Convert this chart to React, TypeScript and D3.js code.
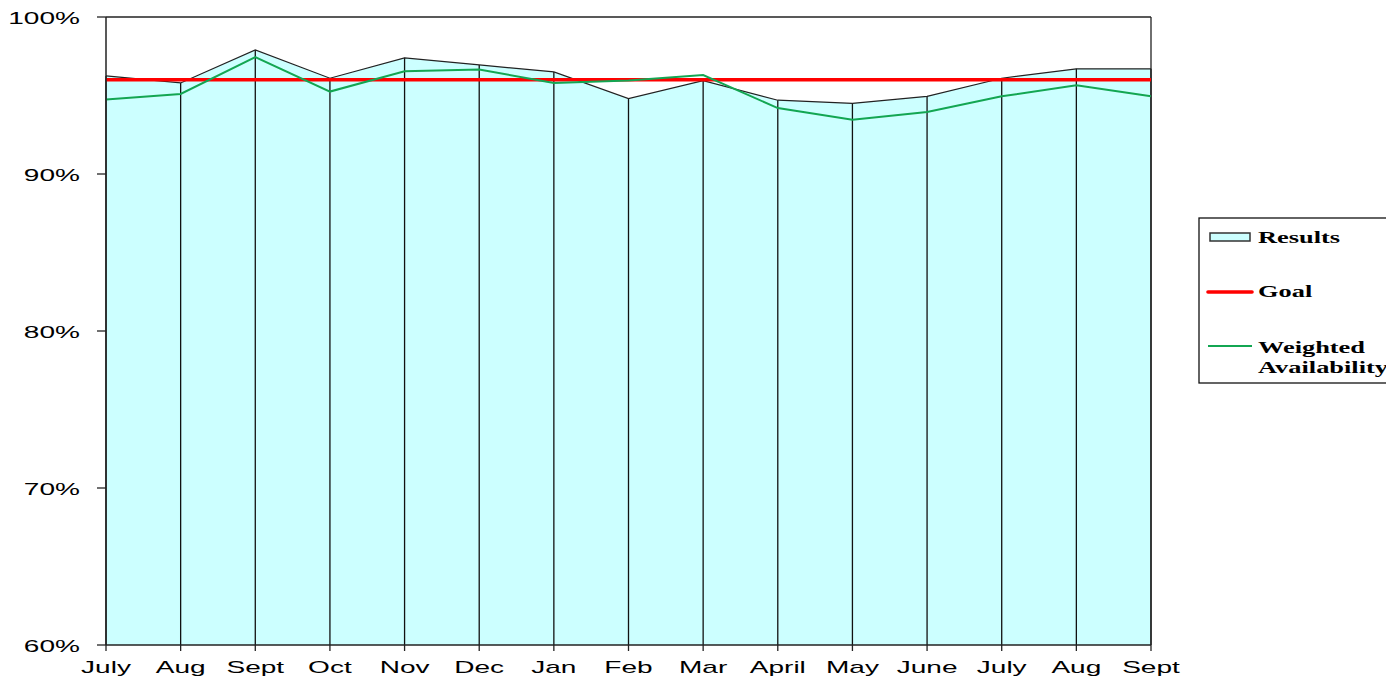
import React from "react";
import * as d3 from "d3";

const months = ["July", "Aug", "Sept", "Oct", "Nov", "Dec", "Jan", "Feb", "Mar", "April", "May", "June", "July", "Aug", "Sept"];
const results = [96.25, 95.8, 97.9, 96.1, 97.4, 96.95, 96.5, 94.8, 95.95, 94.7, 94.5, 94.95, 96.1, 96.7, 96.7];
const weighted = [94.75, 95.1, 97.45, 95.25, 96.55, 96.65, 95.8, 95.95, 96.3, 94.2, 93.45, 93.95, 94.95, 95.65, 94.95];
const goal = 96;
const yTicks = [60, 70, 80, 90, 100];
const legendItems = ["Results", "Goal", "Weighted Availability"];

const W = 1386, H = 679;
const L = 106, R = 1151, T = 17, B = 645;
const SX = 1.65;

export default function App() {
  const idx = months.map((_, i) => i);
  const x = d3.scalePoint<number>().domain(idx).range([L, R]);
  const y = d3.scaleLinear().domain([60, 100]).range([B, T]);

  const area = d3.area<number>().x((_, i) => x(i)!).y0(B).y1((d) => y(d));
  const line = d3.line<number>().x((_, i) => x(i)!).y((d) => y(d));

  const axisFont = "'Liberation Sans', Arial, sans-serif";
  const legFont = "'Liberation Serif', 'Times New Roman', serif";

  return (
    <svg width={W} height={H} style={{ position: "absolute", left: 0, top: 0, display: "block", background: "#fff" }}>
      <path d={area(results)!} fill="#CCFFFF" stroke="none" />
      {results.map((v, i) => (
        <line key={"d" + i} x1={x(i)} x2={x(i)} y1={y(v)} y2={B} stroke="#111" strokeWidth={1.3} />
      ))}
      <path d={line(results)!} fill="none" stroke="#222" strokeWidth={1.2} />
      {/* plot border */}
      <line x1={L} x2={R} y1={T} y2={T} stroke="#222" strokeWidth={1.3} />
      <line x1={R} x2={R} y1={T} y2={B} stroke="#222" strokeWidth={1.3} />
      {/* goal */}
      <line x1={L} x2={R} y1={y(goal)} y2={y(goal)} stroke="#FF0000" strokeWidth={3.6} />
      {/* weighted */}
      <path d={line(weighted)!} fill="none" stroke="#13A652" strokeWidth={2} />
      {/* axes */}
      <line x1={L} x2={L} y1={T} y2={B} stroke="#222" strokeWidth={1.5} />
      <line x1={L} x2={R} y1={B} y2={B} stroke="#222" strokeWidth={1.5} />
      {yTicks.map((t) => (
        <g key={"y" + t}>
          <line x1={L - 9} x2={L} y1={y(t)} y2={y(t)} stroke="#222" strokeWidth={1.3} />
          <text
            transform={`translate(80,${y(t) + 6.5}) scale(${SX},1)`}
            textAnchor="end"
            fontFamily={axisFont}
            fontSize={17}
            fill="#000"
          >
            {t}%
          </text>
        </g>
      ))}
      {idx.map((i) => (
        <g key={"x" + i}>
          <line x1={x(i)} x2={x(i)} y1={B} y2={B + 6} stroke="#222" strokeWidth={1.3} />
          <text
            transform={`translate(${x(i)},${673}) scale(${SX},1)`}
            textAnchor="middle"
            fontFamily={axisFont}
            fontSize={17}
            fill="#000"
          >
            {months[i]}
          </text>
        </g>
      ))}
      {/* legend */}
      <rect x={1199} y={218} width={220} height={165} fill="#fff" stroke="#111" strokeWidth={1.3} />
      <rect x={1210} y={233} width={40} height={8} fill="#CCFFFF" stroke="#333" strokeWidth={1.5} />
      <line x1={1208} x2={1252} y1={292} y2={292} stroke="#FF0000" strokeWidth={3.6} strokeLinecap="round" />
      <line x1={1208} x2={1252} y1={346} y2={346} stroke="#13A652" strokeWidth={2} />
      <g fontFamily={legFont} fontWeight="bold" fontSize={16} fill="#000">
        <text transform={`translate(1258,243) scale(${SX},1)`}>{legendItems[0]}</text>
        <text transform={`translate(1258,297) scale(${SX},1)`}>{legendItems[1]}</text>
        <text transform={`translate(1258,353) scale(${SX},1)`}>{legendItems[2].split(" ")[0]}</text>
        <text transform={`translate(1258,373) scale(${SX},1)`}>{legendItems[2].split(" ")[1]}</text>
      </g>
    </svg>
  );
}
